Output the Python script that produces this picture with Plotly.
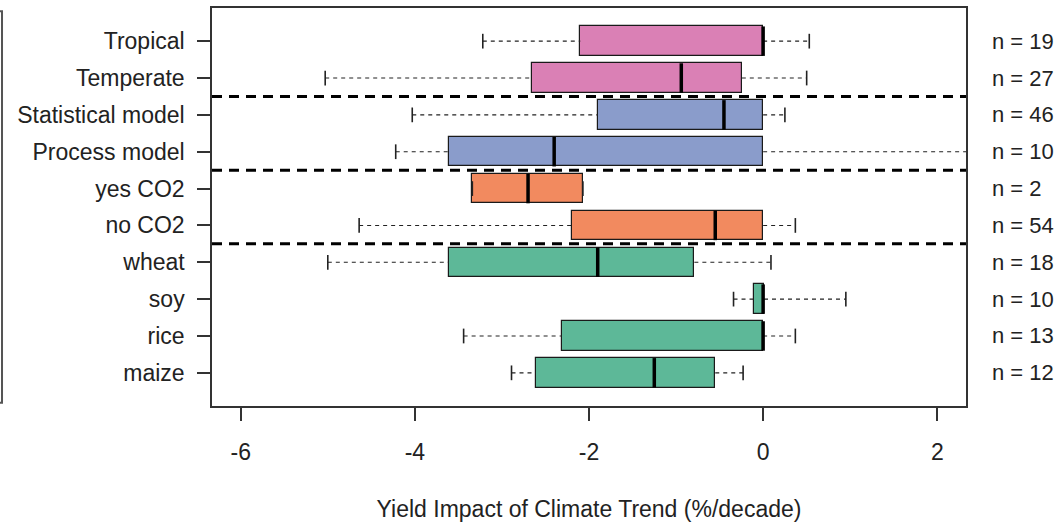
import plotly.graph_objects as go

# ---- data (top to bottom as displayed) ----
categories = ["Tropical", "Temperate", "Statistical model", "Process model",
              "yes CO2", "no CO2", "wheat", "soy", "rice", "maize"]
groups = ["region", "region", "model", "model", "co2", "co2",
          "crop", "crop", "crop", "crop"]
lower_whisker = [-3.22, -5.03, -4.03, -4.22, -3.34, -4.64, -5.00, -0.34, -3.44, -2.89]
q1 = [-2.10, -2.66, -1.90, -3.61, -3.34, -2.20, -3.61, -0.10, -2.31, -2.61]
median = [0.00, -0.94, -0.45, -2.40, -2.70, -0.55, -1.90, 0.00, 0.00, -1.25]
q3 = [0.00, -0.245, 0.00, 0.00, -2.07, 0.00, -0.79, 0.01, 0.00, -0.55]
upper_whisker = [0.53, 0.50, 0.25, 2.80, -2.07, 0.37, 0.09, 0.95, 0.37, -0.23]
n_obs = [19, 27, 46, 10, 2, 54, 18, 10, 13, 12]
x_ticks = [-6, -4, -2, 0, 2]

group_colors = {"region": "#DA80B5", "model": "#8A9CCB",
                "co2": "#F28A5F", "crop": "#5DB898"}

FONT = "Liberation Sans, Arial, sans-serif"
FS = 23
n = len(categories)
pos = [n - i for i in range(n)]  # top item at n, bottom at 1
colors = [group_colors[g] for g in groups]
box_w = 0.8
cap_half = 0.2

fig = go.Figure()

# boxes
fig.add_trace(go.Bar(
    y=pos, x=[b - a for a, b in zip(q1, q3)], base=q1, orientation="h",
    width=box_w, marker=dict(color=colors, line=dict(color="#1a1a1a", width=1.2)),
    hoverinfo="skip", showlegend=False))

# whiskers (dashed)
wx, wy = [], []
for p, lo, a, b, hi in zip(pos, lower_whisker, q1, q3, upper_whisker):
    wx += [lo, a, None, b, hi, None]
    wy += [p, p, None, p, p, None]
fig.add_trace(go.Scatter(x=wx, y=wy, mode="lines",
                         line=dict(color="#222222", width=1.1, dash="4px,4px"),
                         hoverinfo="skip", showlegend=False))

# caps
cx, cy = [], []
for p, lo, hi in zip(pos, lower_whisker, upper_whisker):
    cx += [lo, lo, None, hi, hi, None]
    cy += [p - cap_half, p + cap_half, None, p - cap_half, p + cap_half, None]
fig.add_trace(go.Scatter(x=cx, y=cy, mode="lines",
                         line=dict(color="#222222", width=1.6),
                         hoverinfo="skip", showlegend=False))

# medians
mx, my = [], []
for p, m in zip(pos, median):
    mx += [m, m, None]
    my += [p - box_w / 2, p + box_w / 2, None]
fig.add_trace(go.Scatter(x=mx, y=my, mode="lines",
                         line=dict(color="black", width=3.5),
                         hoverinfo="skip", showlegend=False))

# group separators
shapes = []
for i in range(n - 1):
    if groups[i] != groups[i + 1]:
        ysep = (pos[i] + pos[i + 1]) / 2
        shapes.append(dict(type="line", xref="paper", yref="y", x0=0, x1=1,
                           y0=ysep, y1=ysep, layer="above",
                           line=dict(color="black", width=3, dash="10px,7px")))

# partial frame of neighbouring panel at far left
shapes.append(dict(type="path", xref="paper", yref="paper",
                   path="M -0.29,0.992 L -0.2785,0.992 L -0.2785,0.008 L -0.29,0.008",
                   line=dict(color="#555555", width=2)))

annotations = []
for p, k in zip(pos, n_obs):
    annotations.append(dict(x=1.032, xref="paper", y=p, yref="y",
                            text=f"n = {k}", showarrow=False, xanchor="left",
                            font=dict(family=FONT, size=22, color="#222222")))

fig.update_layout(
    width=1058, height=523,
    margin=dict(l=212, r=92, t=8, b=117),
    paper_bgcolor="white", plot_bgcolor="white",
    font=dict(family=FONT, size=FS, color="#222222"),
    shapes=shapes, annotations=annotations,
    bargap=0,
    xaxis=dict(range=[-6.33, 2.33], tickvals=x_ticks,
               ticktext=[str(t) for t in x_ticks], automargin=False,
               showgrid=False, zeroline=False, showline=True, mirror=True,
               linecolor="#333333", linewidth=1.5,
               ticks="outside", ticklen=13, tickcolor="#333333", tickwidth=1.5,
               ticklabelstandoff=12,
               title=dict(text="Yield Impact of Climate Trend (%/decade)",
                          standoff=37, font=dict(size=FS))),
    yaxis=dict(range=[0.1, n + 0.9], tickvals=pos, ticktext=categories,
               automargin=False,
               showgrid=False, zeroline=False, showline=True, mirror=True,
               linecolor="#333333", linewidth=1.5,
               ticks="outside", ticklen=13, tickcolor="#333333", tickwidth=1.5,
               ticklabelstandoff=8),
)

fig.write_html("out.html",
               config={"displayModeBar": False},
               post_script="document.body.style.margin='0';"
                           "document.body.style.overflow='hidden';")
